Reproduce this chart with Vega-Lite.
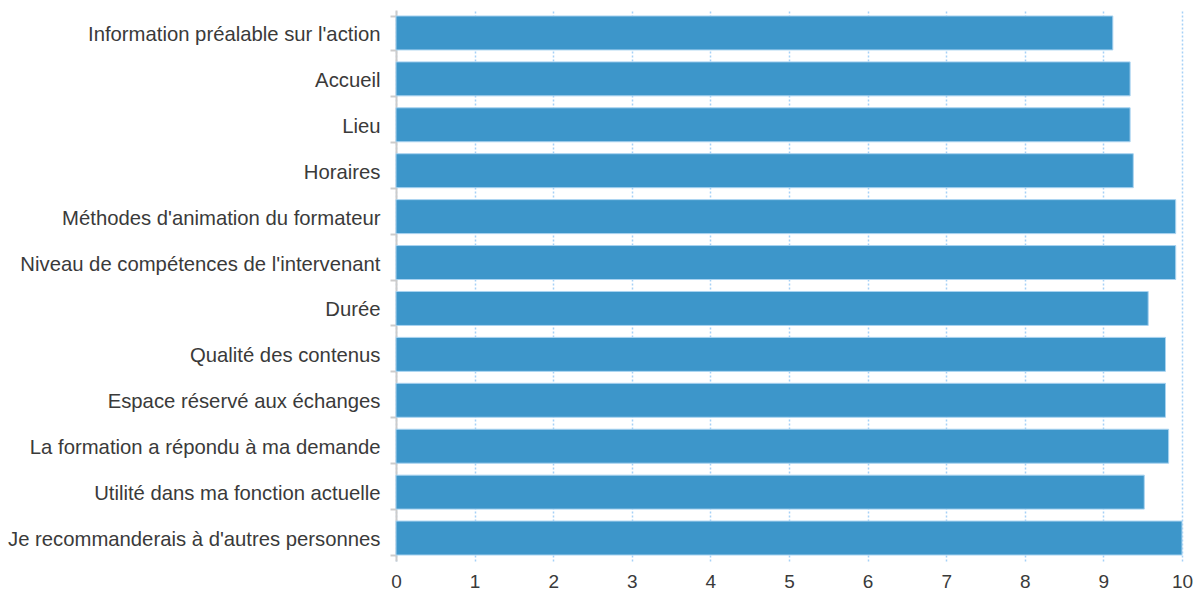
{
  "$schema": "https://vega.github.io/schema/vega-lite/v6.json",
  "autosize": "none",
  "width": 786,
  "height": 551,
  "padding": {"left": 396, "top": 10, "right": 19, "bottom": 31},
  "background": "white",
  "config": {"view": {"stroke": null}, "font": "Liberation Sans"},
  "data": {
    "values": [
      {"critere": "Information préalable sur l'action", "note": 9.12},
      {"critere": "Accueil", "note": 9.34},
      {"critere": "Lieu", "note": 9.34},
      {"critere": "Horaires", "note": 9.38},
      {"critere": "Méthodes d'animation du formateur", "note": 9.92},
      {"critere": "Niveau de compétences de l'intervenant", "note": 9.92},
      {"critere": "Durée", "note": 9.57},
      {"critere": "Qualité des contenus", "note": 9.79},
      {"critere": "Espace réservé aux échanges", "note": 9.79},
      {"critere": "La formation a répondu à ma demande", "note": 9.83},
      {"critere": "Utilité dans ma fonction actuelle", "note": 9.52},
      {"critere": "Je recommanderais à d'autres personnes", "note": 10}
    ]
  },
  "mark": {"type": "bar", "color": "#3d96ca", "stroke": "#a9d3f0", "strokeWidth": 1},
  "encoding": {
    "y": {
      "field": "critere",
      "type": "nominal",
      "sort": null,
      "title": null,
      "scale": {"paddingInner": 0.26, "paddingOuter": 0.13},
      "axis": {
        "tickBand": "extent",
        "domainColor": "#cccccc",
        "domainWidth": 2,
        "tickColor": "#cccccc",
        "tickWidth": 2,
        "tickSize": 6,
        "labelFontSize": 20.3,
        "labelColor": "#3a3a3a",
        "labelPadding": 10,
        "labelOffset": 1.5,
        "labelLimit": 500,
        "grid": false
      }
    },
    "x": {
      "field": "note",
      "type": "quantitative",
      "title": null,
      "scale": {"domain": [0, 10], "nice": false},
      "axis": {
        "values": [0, 1, 2, 3, 4, 5, 6, 7, 8, 9, 10],
        "domain": false,
        "ticks": false,
        "grid": true,
        "gridColor": "#a6d1f7",
        "gridDash": [2, 2],
        "gridWidth": 1.5,
        "labelFontSize": 19,
        "labelColor": "#3a3a3a",
        "labelPadding": 11,
        "labelFlush": false
      }
    }
  }
}
